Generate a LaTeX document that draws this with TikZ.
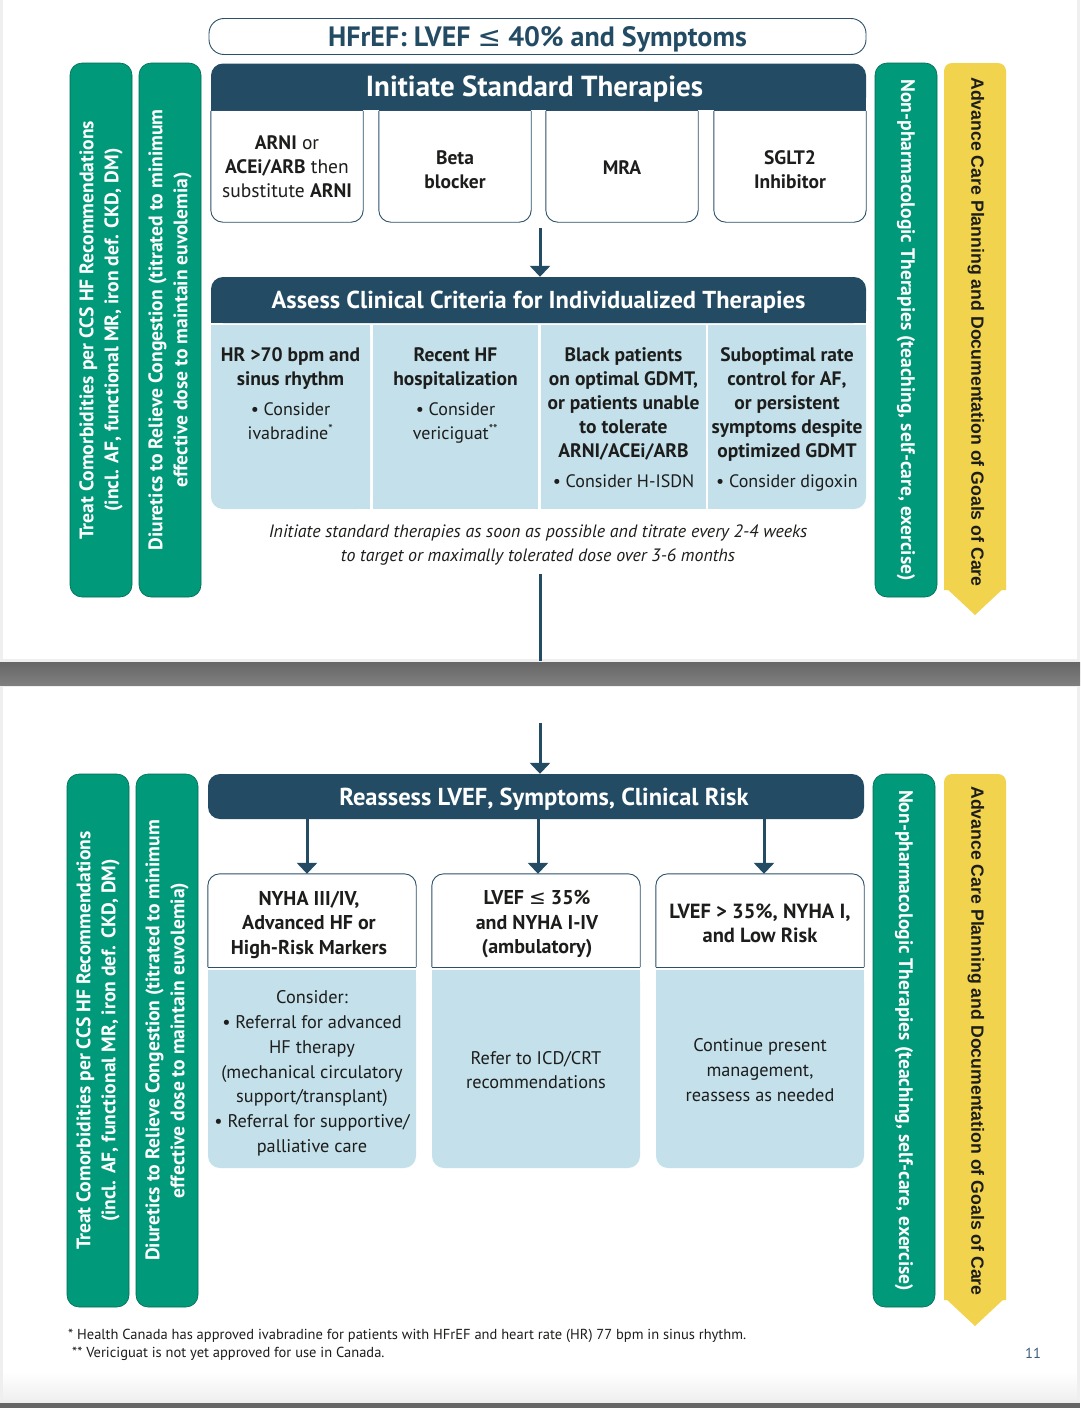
\documentclass[tikz,border=0pt]{standalone}
\usepackage{fontspec}
\setmainfont{PT Sans}
\newfontfamily\symf{DejaVu Sans}
\newfontfamily\arialf{Liberation Sans}
\usetikzlibrary{arrows.meta,calc}
\definecolor{dkblue}{HTML}{234B63}
\definecolor{boxblue}{HTML}{2C5069}
\definecolor{hfgreen}{HTML}{00997A}
\definecolor{hfyellow}{HTML}{F2D34E}
\definecolor{ltblue}{HTML}{C3E0EB}
\definecolor{txtdark}{HTML}{1D1D1B}
\definecolor{pagegray}{HTML}{EFEFEF}
\definecolor{pgnum}{HTML}{3A5A78}
\pgfdeclarelayer{page}
\pgfdeclarelayer{bg}
\pgfsetlayers{page,bg,main}
\newcommand\boxbot[1]{%
  \filldraw[boxsty] (#1.north west) -- (#1.south west) -- (#1.south east) -- (#1.north east);
  \draw[boxsty] (#1.north west) -- (#1.north east);}
\newcommand\boxtop[1]{%
  \filldraw[boxsty] (#1.south west) -- (#1.north west) -- (#1.north east) -- (#1.south east);
  \draw[boxsty] (#1.south west) -- (#1.south east);}
\newcommand\hd[1]{{\fontsize{19.5}{24}\selectfont\bfseries #1}}
\tikzset{
  boxsty/.style={fill=white, draw=boxblue, line width=0.9pt, rounded corners=12pt},
  titlebox/.style={draw=boxblue, line width=0.9pt, fill=white, rounded corners=15pt,
    minimum width=657pt, minimum height=36pt, inner sep=0pt, text=dkblue,
    text height=19.6pt, text depth=0pt,
    font=\bfseries\fontsize{28}{30}\selectfont},
  greenbar/.style={fill=hfgreen, draw=hfgreen!70!black, line width=0.6pt, rounded corners=12pt,
    minimum height=62pt, inner sep=0pt, text=white, align=center,
    font=\bfseries\fontsize{19.6}{25}\selectfont},
  yeltxt/.style={inner sep=0pt, text=txtdark, font=\arialf\bfseries\fontsize{17.7}{20}\selectfont},
  hdr/.style={fill=dkblue, rounded corners=12pt, text=white, inner sep=0pt, text depth=0pt},
  frame/.style={inner sep=0pt},
  boxtxt/.style={inner sep=0pt, align=center, text=txtdark, font=\fontsize{19.5}{24}\selectfont},
  cell/.style={fill=ltblue, inner sep=0pt},
  celltxt/.style={anchor=north, inner sep=0pt, align=center, text=txtdark, font=\fontsize{18}{24}\selectfont},
  lowtxt/.style={inner sep=0pt, align=center, text=txtdark, font=\fontsize{18.3}{24.8}\selectfont},
  arr/.style={draw=dkblue, line width=3pt, -{Triangle[width=20pt,length=11pt]}},
  ln/.style={draw=dkblue, line width=3pt},
  fn/.style={inner sep=0pt, anchor=west, text=txtdark, font=\fontsize{14.5}{17}\selectfont}
}
\begin{document}
\begin{tikzpicture}[x=1pt,y=-1pt]
\useasboundingbox (0,0) rectangle (1080,1408);
% ---------- page background ----------
\begin{pgfonlayer}{page}
  \fill[pagegray] (0,0) rectangle (1080,1408);
  \fill[white] (3,0) rectangle (1077,659);
  \shade[top color=black!60, bottom color=black!50] (0,662) rectangle (1080,685);
  \fill[white] (3,687) rectangle (1077,1372);
  \shade[top color=white, bottom color=pagegray] (3,1372) rectangle (1077,1401);
  \fill[black!60] (0,1403) rectangle (1080,1408);
\end{pgfonlayer}

% ---------- upper part ----------
\node[titlebox] (title) at (537.5,36.5) {HFrEF: LVEF {\symf\mdseries ≤} 40\% and Symptoms};

\node[greenbar, rotate=90, minimum width=534pt] (lc1) at (101,330)
  {Treat Comorbidities per CCS HF Recommendations\\(incl. AF, functional MR, iron def. CKD, DM)};
\node[greenbar, rotate=90, minimum width=534pt] (lc2) at (170,330)
  {Diuretics to Relieve Congestion (titrated to minimum\\effective dose to maintain euvolemia)};
\node[greenbar, rotate=-90, minimum width=534pt] (rn1) at (906,330)
  {Non-pharmacologic Therapies (teaching, self-care, exercise)};
\node[yeltxt, rotate=-90] (ya1) at (976,332)
  {Advance Care Planning and Documentation of Goals of Care};

\node[hdr, minimum width=655pt, minimum height=46pt, text height=20.3pt,
  font=\bfseries\fontsize{29}{30}\selectfont]
  (hdr1) at (538.5,86.5) {Initiate Standard Therapies\hspace*{8pt}};

\node[frame, minimum width=152pt, minimum height=111pt] (b1) at (287,166.5) {};
\node[frame, minimum width=152pt, minimum height=111pt] (b2) at (455,166.5) {};
\node[frame, minimum width=152pt, minimum height=111pt] (b3) at (622,166.5) {};
\node[frame, minimum width=152pt, minimum height=111pt] (b4) at (790,166.5) {};
\node[boxtxt] (b1t) at (b1.center)
  {\textbf{ARNI} or\\\textbf{ACEi/ARB} then\\substitute \textbf{ARNI}};
\node[boxtxt] (b2t) at ($(b2.center)+(0,3)$) {\textbf{Beta}\\\textbf{blocker}};
\node[boxtxt] (b3t) at ($(b3.center)+(0,1)$) {\textbf{MRA}};
\node[boxtxt] (b4t) at ($(b4.center)+(0,3)$) {\textbf{SGLT2}\\\textbf{Inhibitor}};

\coordinate (a1) at (540,228);

\node[hdr, minimum width=655pt, minimum height=46pt, text height=17.2pt,
  font=\bfseries\fontsize{24.5}{26}\selectfont]
  (hdr2) at (538.5,300) {Assess Clinical Criteria for Individualized Therapies};

\node[cell, rounded corners=12pt, minimum width=159pt, minimum height=184pt] (c1) at (290.5,417) {};
\node[cell, minimum width=165pt, minimum height=184pt] (c2) at (455.5,417) {};
\node[cell, minimum width=165pt, minimum height=184pt] (c3) at (623.5,417) {};
\node[cell, rounded corners=12pt, minimum width=158pt, minimum height=184pt] (c4) at (787,417) {};

\node[celltxt] (c1t) at ($(c1.north)+(0,23)$)
  {\hd{HR >70 bpm and}\\\hd{sinus rhythm}\\[6pt]• Consider\\ivabradine\textsuperscript{*}};
\node[celltxt] (c2t) at ($(c2.north)+(0,23)$)
  {\hd{Recent HF}\\\hd{hospitalization}\\[6pt]• Consider\\vericiguat\textsuperscript{**}};
\node[celltxt] (c3t) at ($(c3.north)+(0,23)$)
  {\hd{Black patients}\\\hd{on optimal GDMT,}\\\hd{or patients unable}\\\hd{to tolerate}\\\hd{ARNI/ACEi/ARB}\\[6pt]• Consider H-ISDN};
\node[celltxt] (c4t) at ($(c4.north)+(0,23)$)
  {\hd{Suboptimal rate}\\\hd{control for AF,}\\\hd{or persistent}\\\hd{symptoms despite}\\\hd{optimized GDMT}\\[6pt]• Consider digoxin};

\node[inner sep=0pt, align=center, text=txtdark, font=\itshape\fontsize{17.9}{24}\selectfont] (note) at (538,545)
  {Initiate standard therapies as soon as possible and titrate every 2-4 weeks\\to target or maximally tolerated dose over 3-6 months};

\coordinate (l1) at (540,574);
\coordinate (l2) at (540,661);

% ---------- lower part ----------
\coordinate (l3) at (540,723);
\node[hdr, minimum width=656pt, minimum height=45pt, text height=17.2pt,
  font=\bfseries\fontsize{24.5}{26}\selectfont]
  (hdr3) at (536,796.5) {\hspace*{16pt}Reassess LVEF, Symptoms, Clinical Risk};

\node[greenbar, rotate=90, minimum width=533pt] (lc3) at (98,1040.5)
  {Treat Comorbidities per CCS HF Recommendations\\(incl. AF, functional MR, iron def. CKD, DM)};
\node[greenbar, rotate=90, minimum width=533pt] (lc4) at (167,1040.5)
  {Diuretics to Relieve Congestion (titrated to minimum\\effective dose to maintain euvolemia)};
\node[greenbar, rotate=-90, minimum width=533pt] (rn2) at (904,1040.5)
  {Non-pharmacologic Therapies (teaching, self-care, exercise)};
\node[yeltxt, rotate=-90] (ya2) at (976,1041)
  {Advance Care Planning and Documentation of Goals of Care};

\node[frame, minimum width=208pt, minimum height=93pt] (wa) at (312,920.5) {};
\node[frame, minimum width=208pt, minimum height=93pt] (wb) at (536,920.5) {};
\node[frame, minimum width=208pt, minimum height=93pt] (wc) at (760,920.5) {};
\node[boxtxt, font=\bfseries\fontsize{20}{24.5}\selectfont] (wat) at ($(wa.center)+(-3,4)$)
  {NYHA III/IV,\\Advanced HF or\\High-Risk Markers};
\node[boxtxt, font=\bfseries\fontsize{20}{24.5}\selectfont] (wbt) at ($(wb.center)+(1,4)$)
  {LVEF {\symf\mdseries ≤} 35\%\\and NYHA I-IV\\(ambulatory)};
\node[boxtxt, font=\bfseries\fontsize{20.5}{24.5}\selectfont] (wct) at ($(wc.center)+(0,3)$)
  {LVEF > 35\%, NYHA I,\\and Low Risk};

\node[cell, rounded corners=12pt, minimum width=208pt, minimum height=198pt] (la) at (312,1069) {};
\node[cell, rounded corners=12pt, minimum width=208pt, minimum height=198pt] (lb) at (536,1069) {};
\node[cell, rounded corners=12pt, minimum width=208pt, minimum height=198pt] (lcx) at (760,1069) {};

\node[lowtxt] (lat) at (312,1073.5)
  {Consider:\\• Referral for advanced\\HF therapy\\(mechanical circulatory\\support/transplant)\\• Referral for supportive/\\palliative care};
\node[lowtxt] (lbt) at (536,1070) {Refer to ICD/CRT\\recommendations};
\node[lowtxt] (lct) at (760,1070) {Continue present\\management,\\reassess as needed};

\coordinate (xa) at (307,0);
\coordinate (xb) at (538,0);
\coordinate (xc) at (764,0);

\node[fn] (fn1) at (68,1336) {* Health Canada has approved ivabradine for patients with HFrEF and heart rate (HR) 77 bpm in sinus rhythm.};
\node[fn] (fn2) at (72,1354) {** Vericiguat is not yet approved for use in Canada.};
\node[fn, text=pgnum] (pg) at (1025,1353) {11};

% ---------- connectors ----------
\draw[arr] (a1) -- (a1 |- hdr2.north);
\draw[ln] (l1) -- (l2);
\draw[arr] (l3) -- (l3 |- hdr3.north);
\draw[arr] (hdr3.south -| xa) -- (wa.north -| xa);
\draw[arr] (hdr3.south -| xb) -- (wb.north -| xb);
\draw[arr] (hdr3.south -| xc) -- (wc.north -| xc);

% ---------- shapes behind ----------
\begin{pgfonlayer}{bg}
  \fill[dkblue] (hdr1.west) rectangle (hdr1.south east);
  \fill[dkblue] (hdr2.west) rectangle (hdr2.south east);
  \boxbot{b1} \boxbot{b2} \boxbot{b3} \boxbot{b4}
  \fill[ltblue] (c1.north west) rectangle (c1.east);
  \fill[ltblue] (c1.center) rectangle (c1.south east);
  \fill[ltblue] (c4.north west) rectangle (c4.east);
  \fill[ltblue] (c4.west) rectangle (c4.south);
  \boxtop{wa} \boxtop{wb} \boxtop{wc}
  \fill[ltblue] (la.north west) rectangle (la.east);
  \fill[ltblue] (lb.north west) rectangle (lb.east);
  \fill[ltblue] (lcx.north west) rectangle (lcx.east);
  % yellow arrows
  \fill[hfyellow, rounded corners=8pt] (944,590) -- (944,63) -- (1006,63) -- (1006,590);
  \fill[hfyellow] (944,586) -- (1006,586) -- (975,615) -- cycle;
  \fill[hfyellow, rounded corners=8pt] (944,1300) -- (944,774) -- (1006,774) -- (1006,1300);
  \fill[hfyellow] (944,1297) -- (1006,1297) -- (975,1326) -- cycle;
\end{pgfonlayer}
\end{tikzpicture}
\end{document}
